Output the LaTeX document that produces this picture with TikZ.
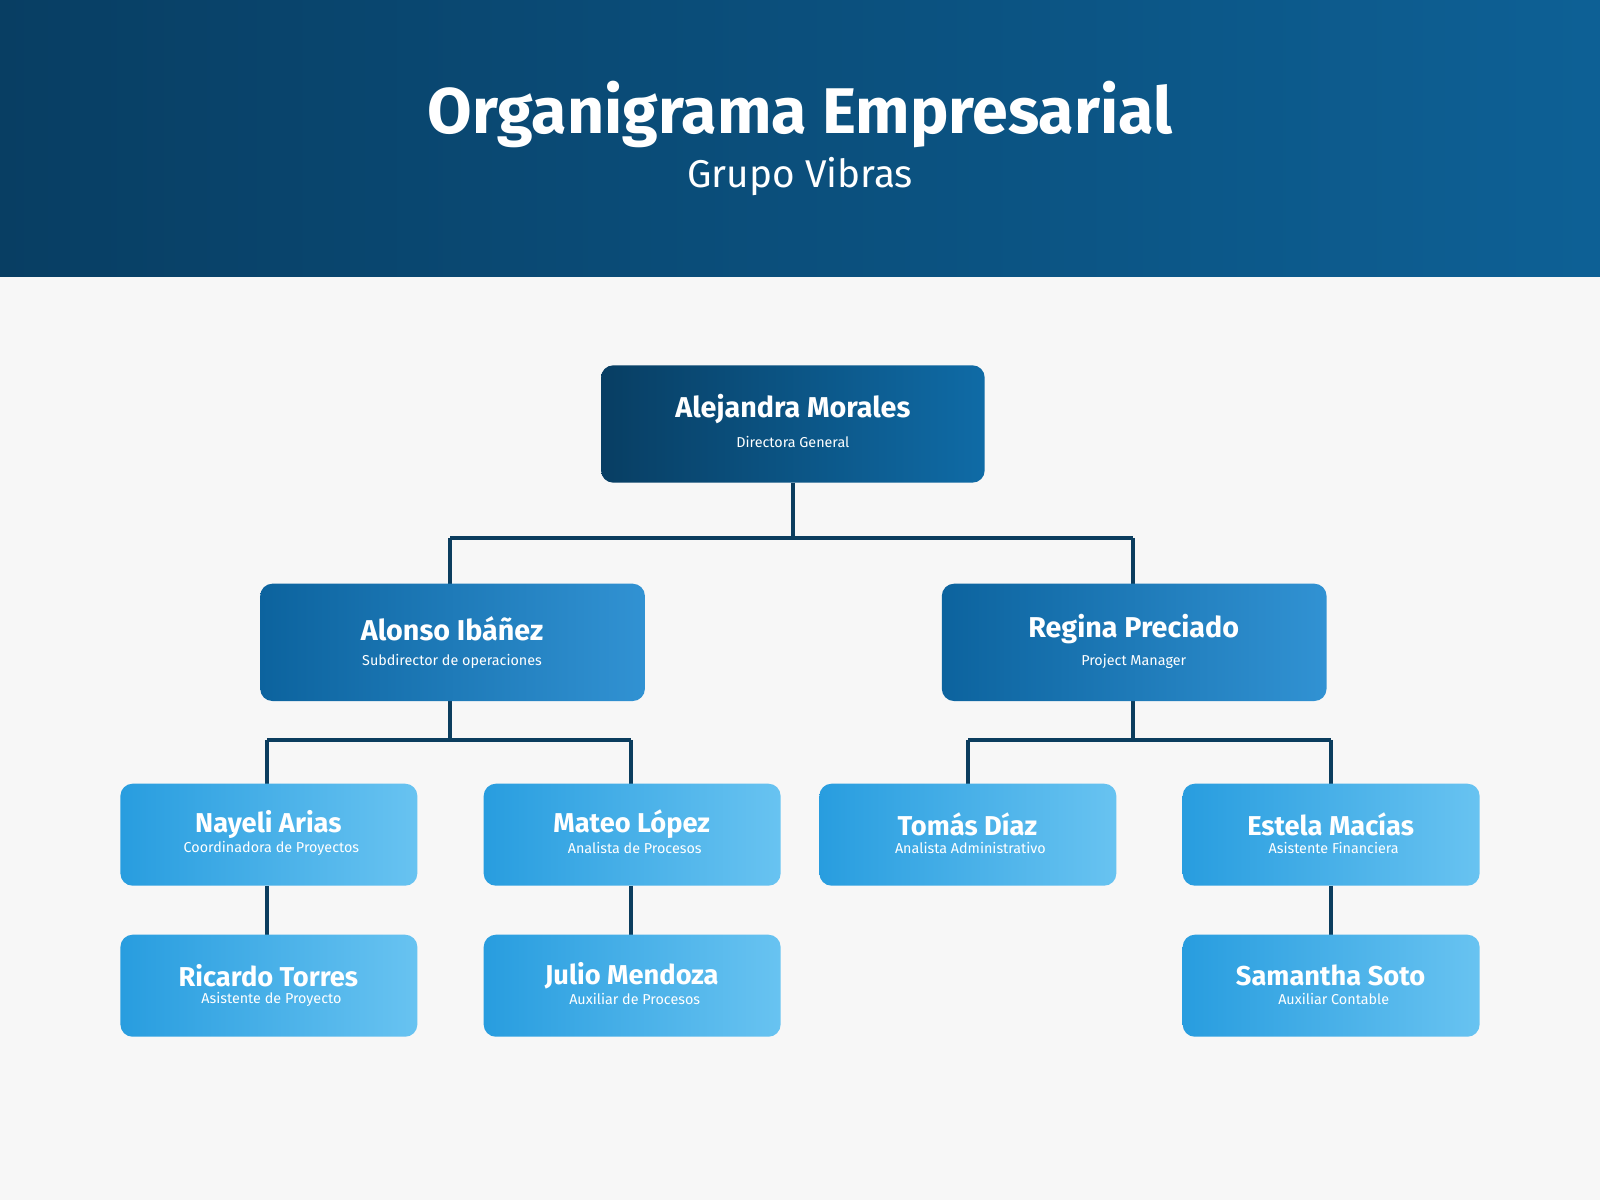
\documentclass[tikz,border=0pt]{standalone}
\usepackage{fontspec}
\setmainfont{Fira Sans}
\begin{document}
\begin{tikzpicture}[x=0.05cm,y=-0.05cm,
 box/.style={rounded corners=0.6cm,draw=none},
 l1/.style={box,left color=top1,right color=top2},
 l2/.style={box,left color=mid1,right color=mid2},
 l3/.style={box,left color=low1,right color=low2},
 nm/.style={text=white,font=\fontsize{40}{44}\selectfont\bfseries},
 nms/.style={text=white,font=\fontsize{38}{42}\selectfont\bfseries},
 rl/.style={text=white,font=\fontsize{20}{22}\selectfont},
 con/.style={draw=conn,line width=0.2cm}]
\definecolor{top1}{HTML}{083E63}\definecolor{top2}{HTML}{0F6BA6}
\definecolor{mid1}{HTML}{0C639E}\definecolor{mid2}{HTML}{3192D3}
\definecolor{low1}{HTML}{289DDF}\definecolor{low2}{HTML}{68C3F1}
\definecolor{conn}{HTML}{0B3D5E}
\useasboundingbox (0,0) rectangle (1568,1176);
\fill[color=black!3] (0,0) rectangle (1568,1176);
\shade[left color=top1,right color=top2!90!black] (0,0) rectangle (1568,271);
\node[text=white,font=\fontsize{90}{96}\selectfont\bfseries] (title) at (784,112) {Organigrama Empresarial};
\node[text=white,font=\fontsize{54}{60}\selectfont] (sub) at (784,173) {Grupo Vibras};
% connectors
\coordinate (j0) at (777,527); \coordinate (j0l) at (441,527); \coordinate (j0r) at (1110,527);
\coordinate (j1) at (441,725); \coordinate (j1l) at (262,725); \coordinate (j1r) at (618,725);
\coordinate (j2) at (1110,725); \coordinate (j2l) at (949,725); \coordinate (j2r) at (1304,725);
\draw[con] (777,473) -- (j0) (j0l) -- (j0r) (j0l) -- (441,572) (j0r) -- (1110,572);
\draw[con] (441,687) -- (j1) (j1l) -- (j1r) (j1l) -- (262,768) (j1r) -- (618,768);
\draw[con] (1110,687) -- (j2) (j2l) -- (j2r) (j2l) -- (949,768) (j2r) -- (1304,768);
\draw[con] (262,868) -- (262,916) (618,868) -- (618,916) (1304,868) -- (1304,916);
% boxes
\path[l1] (589,358) rectangle (965,473);
\node[nm] (a) at (777,401) {Alejandra Morales};
\node[rl] (ar) at (777,433) {Directora General};
\path[l2] (255,572) rectangle (632,687);
\node[nm] (b) at (443,616) {Alonso Ibáñez};
\node[rl] (br) at (443,648) {Subdirector de operaciones};
\path[l2] (923,572) rectangle (1300,687);
\node[nm] (c) at (1111,616) {Regina Preciado};
\node[rl] (cr) at (1111,648) {Project Manager};
\foreach \x/\y/\n/\r/\k in {118/768/Nayeli Arias/Coordinadora de Proyectos/d,
 474/768/Mateo López/Analista de Procesos/e,
 803/768/Tomás Díaz/Analista Administrativo/f,
 1159/768/Estela Macías/Asistente Financiera/g,
 118/916/Ricardo Torres/Asistente de Proyecto/h,
 474/916/Julio Mendoza/Auxiliar de Procesos/i,
 1159/916/Samantha Soto/Auxiliar Contable/j}{
 \path[l3] (\x,\y) rectangle ++(291,100);
 \node[nms] (\k) at (\x+145,\y+40) {\n};
 \node[rl] (\k r) at (\x+148,\y+63) {\r};
}
\end{tikzpicture}
\end{document}
